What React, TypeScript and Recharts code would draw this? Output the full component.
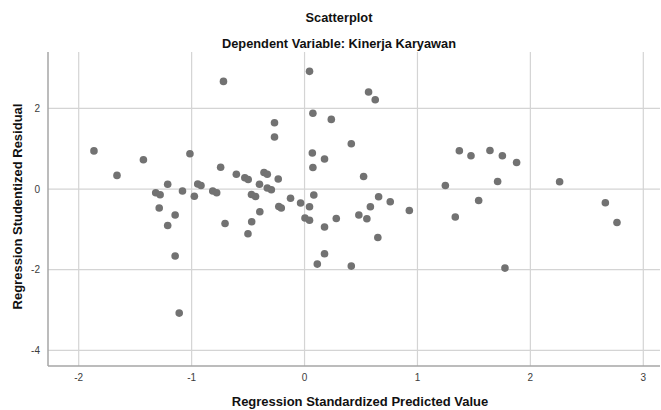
import { ScatterChart, Scatter, XAxis, YAxis, ReferenceLine } from 'recharts'

// Regression Standardized Predicted Value
const predicted = [
  -1.865, -1.661, -1.427, -1.015, -0.743, -0.604, -1.212, -1.318, -1.279, -1.081,
  -0.976, -0.946, -0.917, -0.813, -0.778, -1.287, -1.146, -1.212, -0.704, -1.146,
  -1.11, -0.718, -0.529, -0.499, -0.359, -0.33, -0.233, -0.399, -0.33, -0.294,
  -0.47, -0.434, -0.124, -0.035, 0.082, 0.044, -0.228, -0.206, -0.396, -0.468,
  -0.501, -0.266, -0.266, 0.004, 0.044, 0.177, 0.177, 0.113, 0.044, 0.074,
  0.069, 0.074, 0.177, 0.237, 0.281, 0.414, 0.414, 0.523, 0.567, 0.626,
  0.481, 0.552, 0.583, 0.656, 0.759, 0.649, 0.928, 1.247, 1.335, 1.371,
  1.474, 1.542, 1.642, 1.71, 1.752, 1.775, 1.878, 2.259, 2.664, 2.767,
]

// Regression Studentized Residual
const residual = [
  0.946, 0.338, 0.727, 0.876, 0.541, 0.367, 0.119, -0.092, -0.142, -0.05,
  -0.179, 0.127, 0.087, -0.05, -0.092, -0.469, -0.643, -0.906, -0.854, -1.661,
  -3.078, 2.671, 0.281, 0.238, 0.41, 0.367, 0.248, 0.119, 0.025, -0.017,
  -0.134, -0.184, -0.228, -0.345, -0.149, -0.439, -0.432, -0.472, -0.564, -0.812,
  -1.11, 1.646, 1.291, -0.72, -0.775, -0.941, -1.606, -1.862, 2.92, 1.882,
  0.896, 0.534, 0.745, 1.728, -0.732, 1.125, -1.912, 0.313, 2.408, 2.217,
  -0.645, -0.737, -0.439, -0.191, -0.315, -1.202, -0.531, 0.089, -0.695, 0.951,
  0.827, -0.283, 0.958, 0.189, 0.827, -1.961, 0.66, 0.181, -0.34, -0.829,
]

const xTicks = [-2, -1, 0, 1, 2, 3]
const yTicks = [-4, -2, 0, 2]

const points = predicted.map((x, i) => ({ x, y: residual[i] }))

const font = '"Liberation Sans", Arial, sans-serif'
const gridColor = '#d4d4d4'

function Dot(props: any) {
  const { cx, cy } = props
  return <circle cx={cx} cy={cy} r={3.8} fill="#727272" />
}

export default function App() {
  return (
    <div style={{ position: 'absolute', left: 0, top: 0, width: 661, height: 410, background: '#fff', fontFamily: font }}>
      <ScatterChart width={661} height={410} margin={{ top: 52, right: 1, bottom: 0, left: 0 }}>
        <XAxis
          type="number"
          dataKey="x"
          domain={[-2.272, 3.148]}
          ticks={xTicks}
          allowDataOverflow
          height={44}
          tickLine={false}
          axisLine={{ stroke: '#a6a6a6', strokeWidth: 1.5 }}
          tick={{ fontSize: 10, fill: '#3c3c3c', fontFamily: font }}
        />
        <YAxis
          type="number"
          dataKey="y"
          domain={[-4.39, 3.4]}
          ticks={yTicks}
          allowDataOverflow
          width={48}
          tickLine={false}
          axisLine={{ stroke: '#a6a6a6', strokeWidth: 1.5 }}
          tick={{ fontSize: 10, fill: '#3c3c3c', fontFamily: font }}
        />
        {xTicks.map((t) => (
          <ReferenceLine key={'vx' + t} x={t} stroke={gridColor} strokeWidth={1.2} />
        ))}
        {yTicks.map((t) => (
          <ReferenceLine key={'hy' + t} y={t} stroke={gridColor} strokeWidth={1.2} />
        ))}
        <Scatter data={points} shape={Dot} isAnimationActive={false} />
      </ScatterChart>
      <svg width={661} height={410} style={{ position: 'absolute', left: 0, top: 0, pointerEvents: 'none' }}>
        <text x={339} y={21.5} textAnchor="middle" fontSize={12.8} fontWeight="bold" fill="#111" fontFamily={font}>
          Scatterplot
        </text>
        <text x={339} y={47.5} textAnchor="middle" fontSize={12.8} fontWeight="bold" fill="#111" fontFamily={font}>
          Dependent Variable: Kinerja Karyawan
        </text>
        <text x={360} y={406} textAnchor="middle" fontSize={13} fontWeight="bold" fill="#111" fontFamily={font}>
          Regression Standardized Predicted Value
        </text>
        <text
          x={22}
          y={206.5}
          textAnchor="middle"
          fontSize={13}
          fontWeight="bold"
          fill="#111"
          fontFamily={font}
          transform="rotate(-90 22 206.5)"
        >
          Regression Studentized Residual
        </text>
      </svg>
    </div>
  )
}
